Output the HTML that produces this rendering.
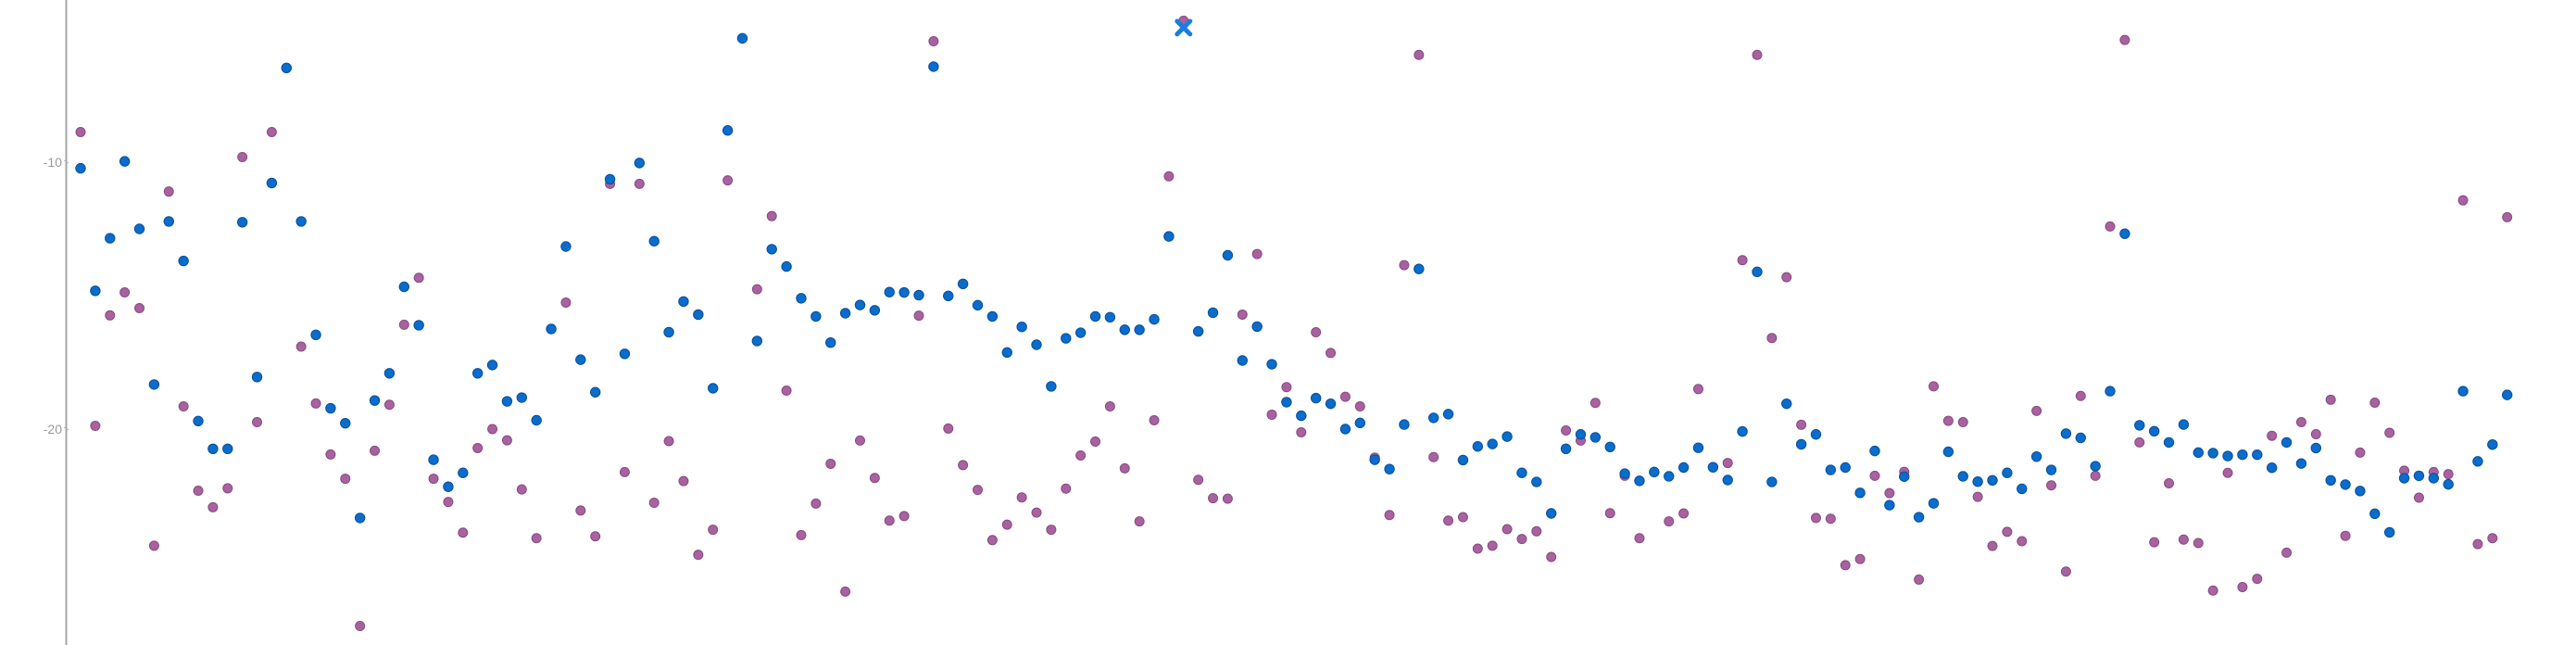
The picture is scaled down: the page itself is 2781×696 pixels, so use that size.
<!DOCTYPE html>
<html>
<head>
<meta charset="utf-8">
<style>
  html,body{margin:0;padding:0;background:#fff;}
  svg{display:block;font-family:"Liberation Sans",sans-serif;}
</style>
</head>
<body>
<svg id="chart" width="2781" height="696" viewBox="0 0 2781 696" xmlns="http://www.w3.org/2000/svg">
  <g id="axis"></g>
  <g id="purple"></g>
  <g id="blue"></g>
</svg>
<script>
const yTicks = [-10, -20];
const tickLabels = ["-10", "-20"];
const highlightIndex = 75;
const blueValues = [
-10.23,-14.82,-12.85,-9.97,-12.5,-18.33,-12.22,-13.7,-19.7,-20.74,
-20.74,-12.25,-18.05,-10.78,-6.47,-12.22,-16.47,-19.22,-19.78,-23.33,
-18.93,-17.91,-14.67,-16.11,-21.15,-22.16,-21.64,-17.91,-17.6,-18.96,
-18.82,-19.67,-16.25,-13.16,-17.4,-18.62,-10.64,-17.18,-10.03,-12.96,
-16.37,-15.22,-15.71,-18.47,-8.81,-5.36,-16.7,-13.26,-13.91,-15.1,
-15.78,-16.76,-15.66,-15.35,-15.55,-14.87,-14.88,-14.98,-6.42,-15.01,
-14.56,-15.36,-15.78,-17.13,-16.17,-16.84,-18.4,-16.6,-16.39,-15.78,
-15.81,-16.28,-16.28,-15.89,-12.78,-4.96,-16.34,-15.64,-13.49,-17.43,
-16.16,-17.57,-18.99,-19.5,-18.84,-19.05,-20.0,-19.77,-21.15,-21.5,
-19.83,-14.0,-19.58,-19.44,-21.16,-20.65,-20.56,-20.28,-21.64,-21.98,
-23.16,-20.74,-20.2,-20.31,-20.67,-21.67,-21.94,-21.61,-21.77,-21.44,
-20.7,-21.43,-21.91,-20.09,-14.11,-21.98,-19.05,-20.57,-20.2,-21.53,
-21.44,-22.39,-20.82,-22.85,-21.78,-23.3,-22.78,-20.85,-21.77,-21.97,
-21.92,-21.64,-22.24,-21.03,-21.53,-20.17,-20.33,-21.39,-18.58,-12.68,
-19.86,-20.08,-20.5,-19.83,-20.88,-20.9,-21.01,-20.96,-20.96,-21.45,
-20.5,-21.29,-20.71,-21.92,-22.08,-22.32,-23.17,-23.87,-21.84,-21.75,
-21.84,-22.07,-18.58,-21.21,-20.58,-18.72
];
const purpleValues = [
-8.87,-19.88,-15.74,-14.88,-15.47,-24.37,-11.1,-19.15,-22.31,-22.93,
-22.22,-9.81,-19.74,-8.87,-6.47,-16.91,-19.04,-20.95,-21.86,-27.38,
-20.81,-19.09,-16.09,-14.33,-21.86,-22.73,-23.88,-20.71,-20.0,-20.42,
-22.26,-24.09,-16.25,-15.26,-23.05,-24.02,-10.81,-21.61,-10.81,-22.76,
-20.45,-21.95,-24.71,-23.77,-10.68,-5.36,-14.76,-12.02,-18.56,-23.97,
-22.79,-21.3,-26.09,-20.43,-21.83,-23.43,-23.26,-15.75,-5.47,-19.98,
-21.35,-22.28,-24.16,-23.58,-22.56,-23.13,-23.77,-22.23,-20.99,-20.47,
-19.15,-21.47,-23.46,-19.67,-10.53,-4.7,-21.9,-22.59,-22.61,-15.71,
-13.44,-19.46,-18.43,-20.12,-16.37,-17.15,-18.79,-19.15,-21.07,-23.22,
-13.86,-5.98,-21.05,-23.43,-23.3,-24.48,-24.37,-23.75,-24.12,-23.83,
-24.79,-20.05,-20.43,-19.02,-23.15,-21.75,-24.09,-21.61,-23.46,-23.16,
-18.5,-21.43,-21.27,-13.67,-5.98,-16.59,-14.31,-19.84,-23.33,-23.36,
-25.1,-24.87,-21.75,-22.4,-21.6,-25.64,-18.4,-19.69,-19.74,-22.54,
-24.38,-23.85,-24.2,-19.32,-22.11,-25.34,-18.76,-21.75,-12.41,-5.42,
-20.5,-24.24,-22.03,-24.14,-24.27,-26.05,-21.64,-25.92,-25.61,-20.25,
-24.63,-19.74,-20.19,-18.9,-24.0,-20.88,-19.01,-20.14,-21.56,-22.57,
-21.61,-21.69,-11.43,-24.31,-24.09,-12.06
];

const NS = "http://www.w3.org/2000/svg";
const X0 = 87, STEP = 15.877;
function xPos(i){ return X0 + i*STEP; }
function yPos(v){ return 175 + (-10 - v) * 28.8; }
function mk(tag, attrs, parent){
  const e = document.createElementNS(NS, tag);
  for (const k in attrs) e.setAttribute(k, attrs[k]);
  parent.appendChild(e);
  return e;
}

const axis = document.getElementById('axis');
const line = mk('line', {x1:71.5, y1:0, x2:71.5, y2:696, stroke:'#a6a6a6', 'stroke-width':2}, axis);


yTicks.forEach((t, k) => {
  const y = yPos(t);
  const tk = mk('line', {x1:69, y1:y-2, x2:74, y2:y+1, stroke:'#b0b0b0', 'stroke-width':1}, axis);
  
  
  const tx = mk('text', {x:67, y:y+5, 'text-anchor':'end', 'font-size':14, fill:'#9a9a9a'}, axis);
  tx.textContent = tickLabels[k];
  
  
});

const gp = document.getElementById('purple');
purpleValues.forEach((v, i) => {
  const c = mk('circle', {cx:xPos(i), cy:yPos(v), r:5, fill:'#a8629f', stroke:'#8a4a83', 'stroke-width':1}, gp);
  
  
});

const gb = document.getElementById('blue');
blueValues.forEach((v, i) => {
  const x = xPos(i), y = yPos(v);
  if (i === highlightIndex) {
    const p = mk('path', {d:`M${x-7},${y-7}L${x+7},${y+7}M${x+7},${y-7}L${x-7},${y+7}`, stroke:'#1a7ee0', 'stroke-width':5, 'stroke-linecap':'round', fill:'none'}, gb);
    
    
  } else {
    const c = mk('circle', {cx:x, cy:y, r:5.2, fill:'#0a6ccc', stroke:'#08509a', 'stroke-width':1}, gb);
    
    
  }
});
</script>
</body>
</html>
